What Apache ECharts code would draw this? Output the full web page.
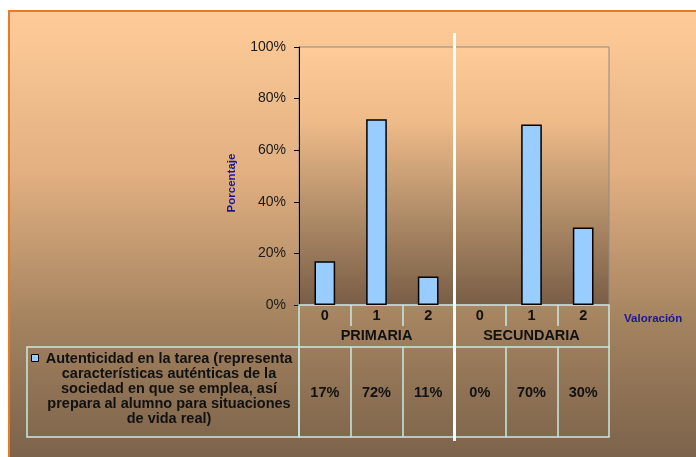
<!DOCTYPE html>
<html>
<head>
<meta charset="utf-8">
<script src="https://cdn.jsdelivr.net/npm/echarts@6/dist/echarts.min.js"></script>
<style>
  html, body { margin: 0; padding: 0; background: #ffffff; }
  #chart { width: 696px; height: 457px; }
</style>
</head>
<body>
<div id="chart"></div>
<script>
// Rating levels per school stage (bottom category axis)
const ratings = ['0', '1', '2', '0', '1', '2'];
// School stages, each spanning three ratings
const stages = ['PRIMARIA', 'SECUNDARIA'];
// Percentage of answers for each rating
const percentages = [17, 72, 11, 0, 70, 30];
// Y axis ticks
const yTicks = [0, 20, 40, 60, 80, 100];
const seriesName = 'Autenticidad en la tarea (representa\ncaracterísticas auténticas de la\nsociedad en que se emplea, así\nprepara al alumno para situaciones\nde vida real)';

const FONT = '"Liberation Sans", Arial, sans-serif';
const TABLE_LINE = '#C6EAE2';
const BAR_FILL = '#99CCFF';

const chart = echarts.init(document.getElementById('chart'), null, { renderer: 'canvas' });

// empty bars get no outline
const barData = percentages.map(v => v === 0 ? { value: v, itemStyle: { borderWidth: 0 } } : v);

const option = {
  backgroundColor: '#ffffff',
  animation: false,
  grid: {
    left: 299, top: 47, right: 87, bottom: 152,
    show: true,
    borderColor: '#8a8a8a',
    borderWidth: 1,
    backgroundColor: new echarts.graphic.LinearGradient(0, 0, 0, 1, [
      { offset: 0, color: '#FFCC99' },
      { offset: 0.3, color: '#EDBA88' },
      { offset: 0.65, color: '#B08C68' },
      { offset: 1, color: '#785D45' }
    ])
  },
  xAxis: [
    {
      // rating labels row
      type: 'category',
      data: ratings,
      position: 'bottom',
      axisLine: { show: true, lineStyle: { color: TABLE_LINE, width: 1.5 } },
      axisTick: { show: true, interval: 0, length: 21, lineStyle: { color: TABLE_LINE, width: 1.5 } },
      axisLabel: { interval: 0, margin: 3, color: '#111', fontFamily: FONT, fontWeight: 'bold', fontSize: 14.5 },
      name: 'Valoración',
      nameLocation: 'end',
      nameGap: 15,
      nameTextStyle: { color: '#1A1A90', fontFamily: FONT, fontWeight: 'bold', fontSize: 11.5, align: 'left', verticalAlign: 'top', lineHeight: 27 }
    },
    {
      // school stage row
      type: 'category',
      data: stages,
      position: 'bottom',
      axisLine: { show: false },
      axisTick: { show: true, interval: 0, length: 42, lineStyle: { color: TABLE_LINE, width: 1.5 } },
      axisLabel: { interval: 0, margin: 23, color: '#111', fontFamily: FONT, fontWeight: 'bold', fontSize: 14.5 }
    },
    {
      // values row
      type: 'category',
      data: percentages.map(v => v + '%'),
      position: 'bottom',
      offset: 42,
      axisLine: { show: true, lineStyle: { color: TABLE_LINE, width: 1.5 } },
      axisTick: { show: true, interval: 0, length: 90, lineStyle: { color: TABLE_LINE, width: 1.5 } },
      axisLabel: { interval: 0, margin: 38, color: '#111', fontFamily: FONT, fontWeight: 'bold', fontSize: 14.5 }
    },
    {
      // bottom edge of the table
      type: 'category',
      data: ratings,
      position: 'bottom',
      offset: 132,
      axisLine: { show: true, lineStyle: { color: TABLE_LINE, width: 1.5 } },
      axisTick: { show: false },
      axisLabel: { show: false }
    }
  ],
  yAxis: {
    type: 'value',
    min: yTicks[0],
    max: yTicks[yTicks.length - 1],
    interval: yTicks[1] - yTicks[0],
    axisLine: { show: true, lineStyle: { color: '#000', width: 1 } },
    axisTick: { show: true, length: 5, lineStyle: { color: '#000' } },
    splitLine: { show: false },
    axisLabel: { formatter: '{value}%', margin: 13, color: '#1a1a1a', fontFamily: FONT, fontSize: 14 },
    name: 'Porcentaje',
    nameLocation: 'middle',
    nameRotate: 90,
    nameGap: 61,
    nameTextStyle: { color: '#1A1A90', fontFamily: FONT, fontWeight: 'bold', fontSize: 11.5, padding: [0, 14, 0, 0] }
  },
  series: [{
    name: seriesName,
    type: 'bar',
    xAxisIndex: 0,
    data: barData,
    barWidth: '40%',
    itemStyle: { color: BAR_FILL, borderColor: '#000', borderWidth: 1.5 }
  }],
  graphic: [
    {
      // chart panel with its gradient and orange frame
      id: 'panel',
      type: 'rect',
      z: -10,
      silent: true,
      shape: { x: 9, y: 11, width: 700, height: 460 },
      style: {
        fill: new echarts.graphic.LinearGradient(0, 0, 0, 1, [
          { offset: 0, color: '#FFCC99' },
          { offset: 0.35, color: '#E2B081' },
          { offset: 0.68, color: '#A3825F' },
          { offset: 1, color: '#775F48' }
        ]),
        stroke: '#EB7A23',
        lineWidth: 2
      }
    },
    {
      // legend cell of the data table
      id: 'legendCell',
      type: 'rect',
      z: 5,
      silent: true,
      shape: { x: 27, y: 347, width: 272, height: 90 },
      style: { fill: 'transparent', stroke: TABLE_LINE, lineWidth: 1.5 }
    },
    {
      id: 'legendKey',
      type: 'rect',
      z: 6,
      silent: true,
      shape: { x: 31.5, y: 354.5, width: 7, height: 7 },
      style: { fill: BAR_FILL, stroke: '#000', lineWidth: 1 }
    },
    {
      id: 'legendText',
      type: 'text',
      z: 6,
      silent: true,
      style: {
        text: seriesName,
        x: 169,
        y: 389,
        align: 'center',
        verticalAlign: 'middle',
        font: 'bold 14.5px ' + FONT,
        lineHeight: 15,
        fill: '#111'
      }
    }
  ]
};

chart.setOption(option);

// White divider between the two school stages, placed on the category boundary
const p2 = chart.convertToPixel({ xAxisIndex: 0 }, 2);
const p3 = chart.convertToPixel({ xAxisIndex: 0 }, 3);
const divX = Math.round((p2 + p3) / 2) + 0.5;
chart.setOption({
  graphic: [{
    id: 'divider',
    type: 'line',
    z: 100,
    silent: true,
    shape: { x1: divX, y1: 33, x2: divX, y2: 441 },
    style: { stroke: '#ffffff', lineWidth: 3 }
  }]
});
</script>
</body>
</html>
